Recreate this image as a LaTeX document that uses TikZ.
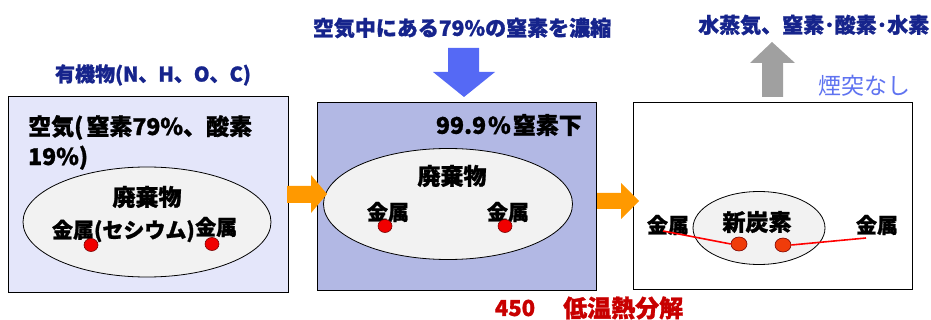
\documentclass[tikz,border=0pt]{standalone}
\usepackage{fontspec}
\setmainfont{Noto Sans CJK JP}[BoldFeatures={FakeBold=1.2}]
\usetikzlibrary{shapes.geometric}
\definecolor{navy}{RGB}{22,36,140}
\definecolor{boxa}{RGB}{228,230,250}
\definecolor{boxb}{RGB}{178,184,228}
\definecolor{ellfill}{RGB}{242,242,242}
\definecolor{bluearrow}{RGB}{85,105,245}
\definecolor{orangearrow}{RGB}{255,153,0}
\definecolor{grayarrow}{RGB}{160,160,160}
\definecolor{lightblue}{RGB}{95,115,240}
\definecolor{darkred}{RGB}{200,0,0}
\definecolor{dotred}{RGB}{240,0,0}
\definecolor{dotorange}{RGB}{240,60,10}
\tikzset{
  panel/.style={draw=black, line width=0.8pt},
  blob/.style={ellipse, draw=black, line width=0.8pt, fill=ellfill, inner sep=0},
  txt/.style={inner sep=0, font=\bfseries\fontsize{23}{26}\selectfont},
  metal/.style={inner sep=0, font=\bfseries\fontsize{21}{24}\selectfont},
  hdr/.style={inner sep=0, text=navy, font=\bfseries\fontsize{21}{24}\selectfont},
  dot/.style={ellipse, draw={rgb,255:red,120;green,0;blue,0}, line width=0.6pt, fill=dotred, inner sep=0, minimum width=14pt, minimum height=13pt},
  dotb/.style={dot, fill=dotorange, minimum width=16pt, minimum height=14pt},
  wire/.style={draw=red, line width=1.6pt},
}
\begin{document}
\begin{tikzpicture}[x=1pt, y=-1pt]
\useasboundingbox (0,0) rectangle (931,320);
% panels
\draw[panel, fill=boxa] (8,96) rectangle (288,292);
\draw[panel, fill=boxb] (317,102) rectangle (596,290);
\draw[panel, fill=white] (633,102) rectangle (912,289);
% ellipses
\node[blob, minimum width=248pt, minimum height=110pt] (e1) at (147,222) {};
\node[blob, minimum width=249pt, minimum height=111pt] (e2) at (448,204) {};
\node[blob, minimum width=132pt, minimum height=73pt] (e3) at (759,228) {};
% headings
\node[hdr, font=\bfseries\fontsize{20}{24}\selectfont] (h1) at (153,75) {有機物(N、H、O、C)};
\node[hdr] (h2) at (462,28) {空気中にある79\%の窒素を濃縮};
\node[hdr, anchor=west] (h3) at (698,25) {水蒸気、窒素･酸素･水素};
\node[inner sep=0, text=lightblue, font=\fontsize{23}{26}\selectfont, anchor=west] (h4) at (818,86) {煙突なし};
\node[inner sep=0, text=darkred, font=\bfseries\fontsize{22}{26}\selectfont] (t450) at (515,308) {450};
\node[inner sep=0, text=darkred, font=\bfseries\fontsize{24}{26}\selectfont, anchor=west] (tlow) at (563,308) {低温熱分解};
% panel 1 texts
\node[txt, anchor=north west, align=left, font=\bfseries\fontsize{23}{30}\selectfont] (air) at (28,115) {空気(\kern3pt 窒素79\%、酸素\\19\%)};
\node[txt] (w1) at (147,197) {廃棄物};
\node[metal, anchor=east] (m1a) at (195,231) {金属(セシウム)};
\node[metal, anchor=west] (m1b) at (195,227) {金属};
\node[dot] (d1a) at (91,245) {};
\node[dot] (d1b) at (212,244) {};
% panel 2 texts
\node[txt, anchor=east] (n2) at (582,125) {99.9\kern2pt\%\kern2pt 窒素下};
\node[txt] (w2) at (452,176) {廃棄物};
\node[metal] (m2a) at (388,212) {金属};
\node[metal] (m2b) at (508,212) {金属};
\node[dot] (d2a) at (385,226) {};
\node[dot] (d2b) at (505,226) {};
% panel 3 texts
\node[txt] (c3) at (757,222) {新炭素};
\node[metal] (m3a) at (668,225) {金属};
\node[metal] (m3b) at (877,225) {金属};
\coordinate (wa) at (663,231);
\coordinate (wb) at (866,238);
\node[dotb] (d3a) at (739,244) {};
\node[dotb] (d3b) at (783,245) {};
\draw[wire] (wa) -- (d3a.west);
\draw[wire] (d3b.east) -- (wb);
% block arrows
\fill[orangearrow] (287,186) -- (311,186) -- (311,175) -- (327,194) -- (311,213) -- (311,203) -- (287,203) -- cycle;
\fill[orangearrow] (597,193) -- (621,193) -- (621,183) -- (639,201) -- (621,219) -- (621,209) -- (597,209) -- cycle;
\fill[bluearrow] (448,48) -- (479,48) -- (479,72) -- (495,72) -- (464,97) -- (433,72) -- (448,72) -- cycle;
\fill[grayarrow] (762,97) -- (783,97) -- (783,63) -- (795,63) -- (772,42) -- (750,63) -- (762,63) -- cycle;
\end{tikzpicture}
\end{document}
